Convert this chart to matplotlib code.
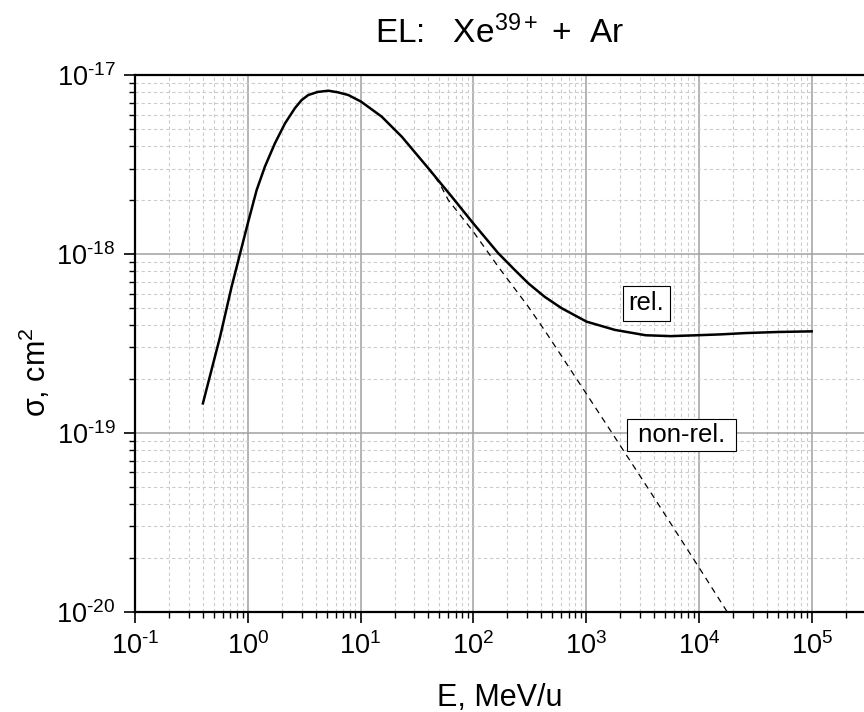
import numpy as np
import matplotlib
matplotlib.use("Agg")
import matplotlib.pyplot as plt
from matplotlib.ticker import FixedLocator, NullFormatter, FuncFormatter

# ------------------------------------------------------------
# Data (E in MeV/u, sigma in cm^2)
# ------------------------------------------------------------
E_rel = [0.40, 0.479, 0.568, 0.719, 0.853, 1.0, 1.20, 1.42, 1.74, 2.14,
         2.62, 3.0, 3.44, 4.17, 5.18, 6.31, 7.78, 10.1, 15.4, 23.2, 39.9,
         64.3, 100, 166, 230, 307, 430, 607, 1010, 1800, 3370, 5620, 9660,
         15800, 25900, 5.0e4, 1.0e5]
sigma_rel = [1.46e-19, 2.27e-19, 3.44e-19, 6.56e-19, 1.0e-18, 1.48e-18,
             2.28e-18, 3.08e-18, 4.15e-18, 5.37e-18, 6.53e-18, 7.24e-18,
             7.73e-18, 8.04e-18, 8.17e-18, 8.0e-18, 7.73e-18, 7.10e-18,
             5.85e-18, 4.52e-18, 3.01e-18, 2.09e-18, 1.48e-18, 1.01e-18,
             8.2e-19, 6.85e-19, 5.75e-19, 4.97e-19, 4.18e-19, 3.76e-19,
             3.51e-19, 3.47e-19, 3.51e-19, 3.55e-19, 3.61e-19, 3.66e-19,
             3.69e-19]

E_nonrel = [39.9, 50.1, 60, 100, 166, 307, 431, 1000, 1660, 3980, 1.0e4, 2.0e4]
sigma_nonrel = [3.01e-18, 2.48e-18, 2.0e-18, 1.33e-18, 8.49e-19, 5.07e-19,
                3.72e-19, 1.66e-19, 1.02e-19, 4.37e-20, 1.77e-20, 8.9e-21]

x_decades = [-1, 0, 1, 2, 3, 4, 5]
y_decades = [-20, -19, -18, -17]

title = "EL:   Xe$^{39+}$ +  Ar"

# ------------------------------------------------------------
# Style
# ------------------------------------------------------------
plt.rcParams["font.family"] = ["Liberation Sans", "DejaVu Sans"]
plt.rcParams["mathtext.fontset"] = "custom"
plt.rcParams["mathtext.rm"] = "Liberation Sans"
plt.rcParams["mathtext.it"] = "Liberation Sans"
plt.rcParams["mathtext.default"] = "regular"


def pow10_label(v, pos):
    n = int(round(np.log10(v)))
    s = str(n).replace("-", "\u2010")
    return "10$^{" + s + "}$"


fig = plt.figure(figsize=(8.64, 7.12), dpi=100)
ax = fig.add_axes([135 / 864, 100.3 / 712, 1 - 135 / 864, 536.7 / 712])

ax.set_xscale("log")
ax.set_yscale("log")
xmax = 10 ** 5.464
ax.set_xlim(0.1, xmax)
ax.set_ylim(1e-20, 1e-17)

# ticks only inside the visible range
x_major = [10.0 ** d for d in x_decades]
x_minor = [m * 10.0 ** d for d in x_decades for m in range(2, 10) if m * 10.0 ** d < xmax]
y_major = [10.0 ** d for d in y_decades]
y_minor = [m * 10.0 ** d for d in y_decades[:-1] for m in range(2, 10)]

ax.xaxis.set_major_locator(FixedLocator(x_major))
ax.xaxis.set_minor_locator(FixedLocator(x_minor))
ax.yaxis.set_major_locator(FixedLocator(y_major))
ax.yaxis.set_minor_locator(FixedLocator(y_minor))
ax.xaxis.set_major_formatter(FuncFormatter(pow10_label))
ax.yaxis.set_major_formatter(FuncFormatter(pow10_label))
ax.xaxis.set_minor_formatter(NullFormatter())
ax.yaxis.set_minor_formatter(NullFormatter())

# grid
ax.grid(True, which="major", color="#a0a0a0", lw=1.1, ls="-")
ax.grid(True, which="minor", color="#cccccc", lw=0.8, ls=(0, (3, 2.5)))
ax.set_axisbelow(True)

# curves
ax.plot(E_rel, sigma_rel, color="black", lw=1.8, zorder=3)
ax.plot(E_nonrel, sigma_nonrel, color="black", lw=0.9, ls=(0, (5, 4)), zorder=3)

# labels in boxes
ax.text(3400, 5.3e-19, "rel.", fontsize=18.5, ha="center", va="center",
        bbox=dict(boxstyle="square,pad=0.22", fc="white", ec="black", lw=0.8), zorder=4)
ax.text(7000, 9.7e-20, " non-rel. ", fontsize=18.5, ha="center", va="center",
        bbox=dict(boxstyle="square,pad=0.15", fc="white", ec="black", lw=0.8), zorder=4)

ax.tick_params(which="major", direction="out", length=8, width=1.2, labelsize=19.5, pad=6)
ax.tick_params(which="minor", direction="out", length=4, width=1.0)
ax.tick_params(axis="x", which="major", pad=7)
ax.tick_params(top=False, right=False)

for s in ["left", "bottom", "top"]:
    ax.spines[s].set_linewidth(1.6)
ax.spines["right"].set_visible(False)

ax.set_xlabel("E, MeV/u", fontsize=22, labelpad=16)
ax.set_ylabel("σ, cm$^2$", fontsize=22)
ax.yaxis.set_label_coords(-0.112, 0.447)
ax.set_title(title, fontsize=24, pad=23)

fig.savefig("out.png", dpi=100)
